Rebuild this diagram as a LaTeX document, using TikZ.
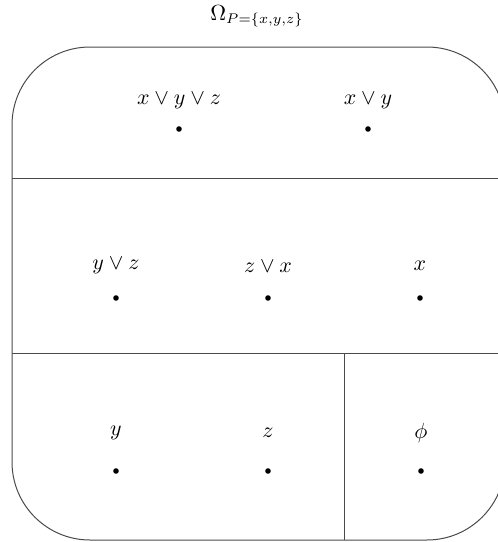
\documentclass[tikz,border=0pt]{standalone}
\usepackage{amsmath}
\usepackage{xcolor}
\usepackage{tikz}
\definecolor{cline}{HTML}{4A4A4A}
\tikzset{pt/.style={circle,fill=black,inner sep=0pt,minimum size=2.8pt},
  lbl/.style={font=\fontsize{10.5}{12}\selectfont},
  sep/.style={cline,line width=0.5pt}}

\begin{document}
\begin{tikzpicture}[x=0.5pt,y=-0.5pt]
\useasboundingbox (0,0) rectangle (498,542);

% ===== title =====
\node[lbl] (title) at (257,16) {$\Omega_{P=\{x,y,z\}}$};

% ===== outer region and cuts =====
\draw[sep,rounded corners=39pt] (12,47) rectangle (505,540);
\coordinate (l1) at (12,178); \coordinate (r1) at (505,178);
\coordinate (l2) at (12,353); \coordinate (r2) at (505,353);
\coordinate (vt) at (344,353); \coordinate (vb) at (344,540);
\draw[sep] (l1) -- (r1);
\draw[sep] (l2) -- (r2);
\draw[sep] (vt) -- (vb);

% ===== top row =====
\node[lbl] (xyz) at (179,101) {$x\vee y\vee z$};
\node[pt]  (pxyz) at (179,129) {};
\node[lbl] (xy) at (368,101) {$x\vee y$};
\node[pt]  (pxy) at (368,129) {};

% ===== middle row =====
\node[lbl] (yz) at (116,266) {$y\vee z$};
\node[pt]  (pyz) at (116,298) {};
\node[lbl] (zx) at (268,266) {$z\vee x$};
\node[pt]  (pzx) at (268,298) {};
\node[lbl] (x) at (420,266) {$x$};
\node[pt]  (px) at (420,298) {};

% ===== bottom row =====
\node[lbl] (y) at (116,433) {$y$};
\node[pt]  (py) at (116,471) {};
\node[lbl] (z) at (268,433) {$z$};
\node[pt]  (pz) at (268,471) {};
\node[lbl] (phi) at (421,433) {$\phi$};
\node[pt]  (pphi) at (421,471) {};

\end{tikzpicture}
\end{document}
